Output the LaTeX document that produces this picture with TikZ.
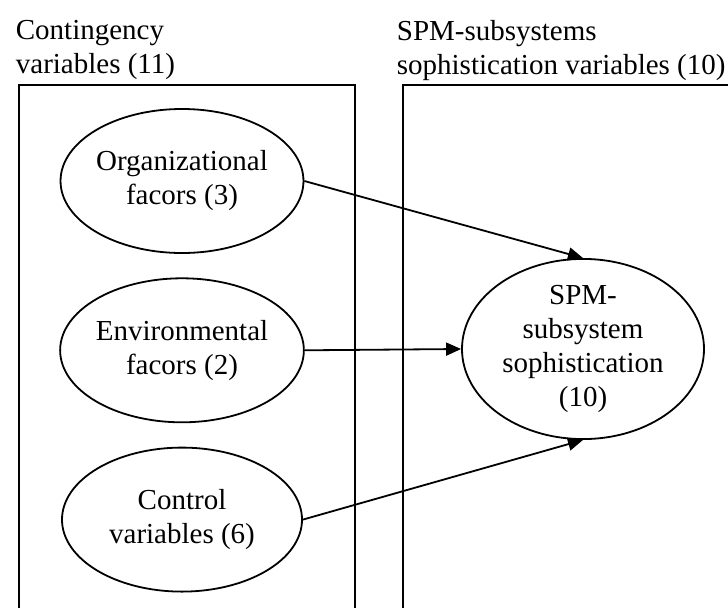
\documentclass[tikz,border=0pt]{standalone}
\usepackage{fontspec}
\setmainfont{Liberation Serif}
\usetikzlibrary{arrows.meta,positioning,shapes.geometric}

\begin{document}
\begin{tikzpicture}[x=1pt,y=-1pt,>={Triangle[length=15pt,width=13pt]},line width=1.8pt,
	every node/.style={font=\fontsize{29}{34}\selectfont}]
	\tikzstyle{factor} = [draw, ellipse, align=center, inner sep=0pt, minimum width=240pt, minimum height=144pt]
	\tikzstyle{heading} = [align=left, anchor=north west, inner sep=0pt]

	\useasboundingbox (0,0) rectangle (728,608);

	\node [heading] (conttitle) at (15,19.5) {Contingency\\variables (11)};
	\node [heading] (spmtitle) at (396,19.5) {SPM-subsystems\\sophistication variables (10)};

	% group boxes, open at the bottom
	\draw (19,608) -- (19,85) -- (355,85) -- (355,608);
	\draw (403,608) -- (403,85) -- (728,85);

	\node [factor] (org) at (182,181) {Organizational\\facors (3)};
	\node [factor, below = 23.5pt of org] (env) {Environmental\\facors (2)};
	\node [factor, below = 23.5pt of env] (ctrl) {Control\\variables (6)};
	\node [factor, minimum width=242pt, minimum height=168pt] (spm) at (583,349) {SPM-\\subsystem\\sophistication\\(10)};

	\draw [->] (org.east) -- (spm.north);
	\draw [->] (env.east) -- (spm.west);
	\draw [->] (ctrl.east) -- (spm.south);
\end{tikzpicture}
\end{document}
